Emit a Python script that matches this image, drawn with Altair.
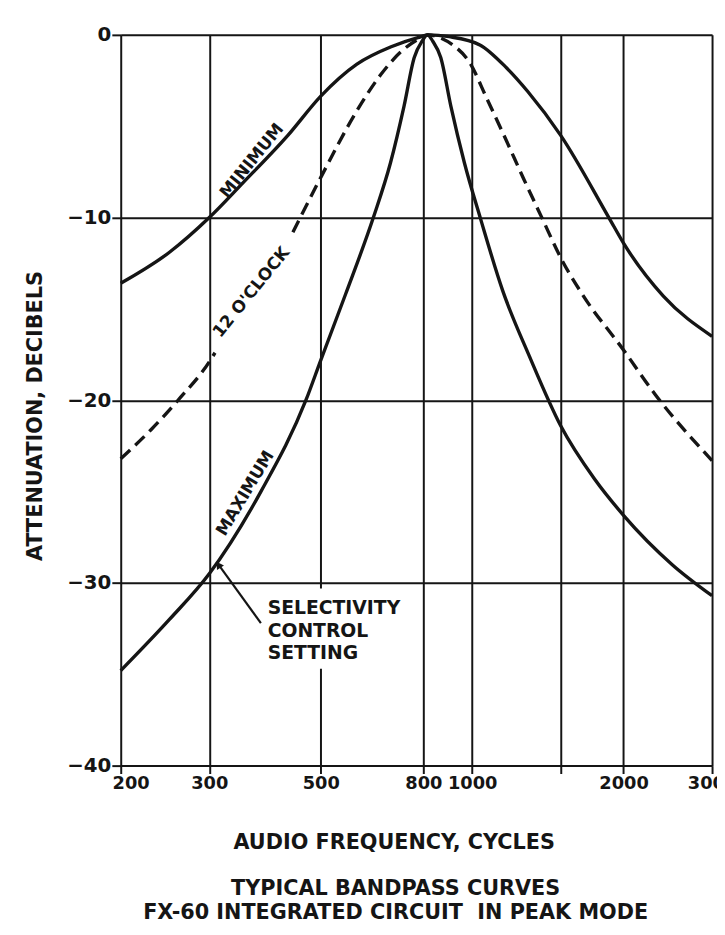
import altair as alt
import pandas as pd

# ---------------- data ----------------
min_freq = [200, 250, 300, 350, 430, 500, 590, 690, 780, 820, 900, 1036, 1170, 1290, 1500, 1870, 2000, 2400, 3000]
min_db = [-13.6, -11.9, -10.0, -8.1, -5.5, -3.35, -1.6, -0.65, -0.15, 0.0, -0.1, -0.55, -1.8, -3.1, -5.5, -10.0, -11.4, -14.3, -16.5]

max_freq = [200, 250, 300, 380, 467, 500, 560, 636, 688, 732, 767, 795, 815, 835, 866, 907, 965, 1040, 1150, 1300, 1500, 1750, 2000, 2500, 3000]
max_db = [-34.8, -32.0, -29.5, -25.0, -20.0, -17.8, -14.2, -10.0, -7.0, -3.9, -1.24, -0.35, 0.0, -0.35, -1.24, -3.9, -7.0, -10.1, -14.0, -17.6, -21.4, -24.3, -26.3, -29.0, -30.7]

# 12 o'clock curve (dashed), broken where its label is written
mid_lo_freq = [200, 230, 260, 300, 308]
mid_lo_db = [-23.2, -21.6, -20.0, -17.9, -17.4]
mid_hi_freq = [440, 457, 500, 590, 657, 722, 780, 815, 870, 920, 988, 1066, 1170, 1267, 1381, 1500, 1656, 2000, 2314, 3000]
mid_hi_db = [-10.8, -9.9, -7.8, -4.15, -2.2, -0.92, -0.25, 0.0, -0.2, -0.6, -1.5, -3.4, -5.8, -7.9, -10.1, -12.2, -14.2, -17.25, -19.7, -23.3]

x_ticks = [200, 300, 500, 800, 1000, 1500, 2000, 3000]
y_ticks = [0, -10, -20, -30, -40]

curve_labels = ["MINIMUM", "12 O'CLOCK", "MAXIMUM"]
curve_label_freq = [365, 364, 354]
curve_label_db = [-6.9, -14.1, -25.1]

note_lines = ["SELECTIVITY", "CONTROL", "SETTING"]
note_freq = [392, 392, 392]
note_db = [-31.4, -32.65, -33.85]

leader_freq = [380, 313]
leader_db = [-32.2, -29.0]

gap_freq = [485]
gap_freq2 = [515]
gap_db = [-30.3]
gap_db2 = [-34.7]

x_title = "AUDIO FREQUENCY, CYCLES"
y_title = "ATTENUATION, DECIBELS"
caption = ["TYPICAL BANDPASS CURVES", "FX-60 INTEGRATED CIRCUIT\u00a0 IN PEAK MODE"]

# ---------------- tables ----------------
solid_df = pd.concat([
    pd.DataFrame({"freq": min_freq, "db": min_db, "curve": "MINIMUM"}),
    pd.DataFrame({"freq": max_freq, "db": max_db, "curve": "MAXIMUM"}),
])
dash_df = pd.concat([
    pd.DataFrame({"freq": mid_lo_freq, "db": mid_lo_db, "seg": "lo"}),
    pd.DataFrame({"freq": mid_hi_freq, "db": mid_hi_db, "seg": "hi"}),
])

INK = "#151515"
FONT = "DejaVu Sans"

x_enc = alt.X(
    "freq:Q",
    scale=alt.Scale(type="log", domain=[200, 3000], nice=False, zero=False),
    axis=alt.Axis(
        values=x_ticks,
        labelExpr="datum.value == 1500 ? '' : format(datum.value, 'd')",
        grid=True, gridColor=INK, gridWidth=2, gridOpacity=1,
        domain=False,
        ticks=True, tickColor=INK, tickWidth=2, tickSize=8,
        labelFont=FONT, labelFontWeight="bold", labelFontSize=18, labelColor=INK,
        labelPadding=1, labelOverlap=False, labelFlush=False, labelBound=False,
        labelOffset={"condition": {"test": "datum.value == 200", "value": 10}, "value": 0},
        title=x_title, titleFont=FONT, titleFontWeight="bold", titleFontSize=21,
        titleColor=INK, titleX=276, titleY=84, titleBaseline="alphabetic",
        titleAnchor="middle", titleAlign="center",
    ),
)
y_enc = alt.Y(
    "db:Q",
    scale=alt.Scale(domain=[-40, 0], nice=False, zero=False),
    axis=alt.Axis(
        values=y_ticks,
        labelExpr="datum.value == 0 ? '0' : '\u2212' + format(abs(datum.value), 'd')",
        grid=True, gridColor=INK, gridWidth=2, gridOpacity=1,
        domain=False,
        ticks=True, tickColor=INK, tickWidth=2, tickSize=9,
        labelFont=FONT, labelFontWeight="bold", labelFontSize=20, labelColor=INK,
        labelPadding=1, labelOverlap=False, labelFlush=False, labelBound=False,
        title=y_title, titleFont=FONT, titleFontWeight="bold", titleFontSize=21,
        titleColor=INK, titleX=-80, titleY=385, titleBaseline="alphabetic",
        titleAngle=270, titleAlign="center",
    ),
)

solid = alt.Chart(solid_df).mark_line(
    color=INK, strokeWidth=3.4, interpolate="monotone"
).encode(x=x_enc, y=y_enc, detail="curve:N")

dashed = alt.Chart(dash_df).mark_line(
    color=INK, strokeWidth=3.4, strokeDash=[13, 7], interpolate="monotone"
).encode(x=x_enc, y=y_enc, detail="seg:N")

gap = alt.Chart(pd.DataFrame({"freq": gap_freq, "freq2": gap_freq2, "db": gap_db, "db2": gap_db2})).mark_rect(
    color="white"
).encode(x=x_enc, x2="freq2:Q", y=y_enc, y2="db2:Q")

label_angles = [309, 309, 301]
label_layers = []
for t, f, d, a in zip(curve_labels, curve_label_freq, curve_label_db, label_angles):
    label_layers.append(
        alt.Chart(pd.DataFrame({"freq": [f], "db": [d], "text": [t]})).mark_text(
            angle=a, font=FONT, fontWeight="bold", fontSize=17, color=INK,
            align="center", baseline="middle",
        ).encode(x=x_enc, y=y_enc, text="text:N")
    )

note = alt.Chart(pd.DataFrame({"freq": note_freq, "db": note_db, "text": note_lines})).mark_text(
    font=FONT, fontWeight="bold", fontSize=19, color=INK, align="left", baseline="middle",
).encode(x=x_enc, y=y_enc, text="text:N")

leader = alt.Chart(pd.DataFrame({"freq": leader_freq, "db": leader_db})).mark_line(
    color=INK, strokeWidth=2.2
).encode(x=x_enc, y=y_enc)

arrow = alt.Chart(pd.DataFrame({"freq": leader_freq[1:], "db": leader_db[1:]})).mark_point(
    shape="triangle-up", filled=True, size=70, angle=327, color=INK, opacity=1
).encode(x=x_enc, y=y_enc)

chart = alt.layer(gap, solid, dashed, *label_layers, note, leader, arrow).properties(
    width=598,
    height=739,
    autosize=alt.AutoSizeParams(type="none"),
    padding={"left": 114, "top": 22, "right": 5, "bottom": 155},
    title=alt.TitleParams(
        text=caption, orient="bottom", anchor="middle", frame="group", dx=-21,
        offset=26, font=FONT, fontWeight="bold", fontSize=21, color=INK, lineHeight=24,
    ),
).configure_view(stroke=None).configure(background="white")

chart.save("out.html", embed_options={"renderer": "svg", "actions": False})
